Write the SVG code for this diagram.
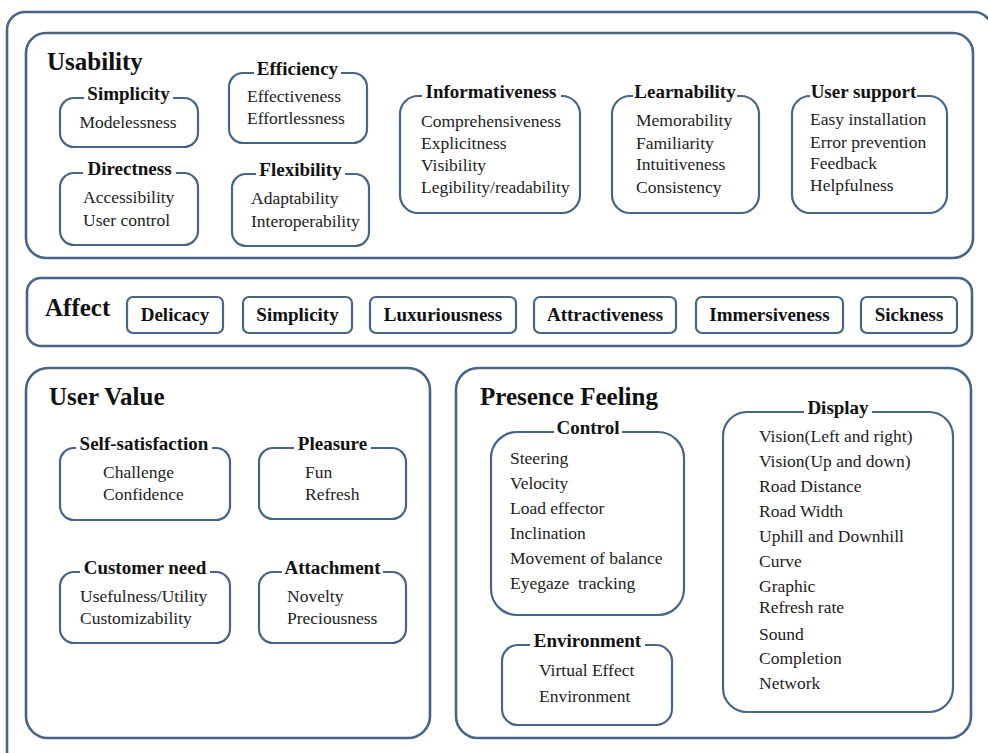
<svg xmlns="http://www.w3.org/2000/svg" width="988" height="753" viewBox="0 0 988 753" font-family="'Liberation Serif', 'Times New Roman', Tinos, 'DejaVu Serif', serif">
<style>
.box{fill:none;stroke:#486487;stroke-width:2.2}
.big{fill:none;stroke:#486487;stroke-width:2.6}
.gap{fill:#ffffff}
text{font-family:'Liberation Serif','Times New Roman',Tinos,'DejaVu Serif',serif}
.t{font-weight:bold;font-size:19px;fill:#111;text-anchor:middle}
.h{font-weight:bold;font-size:25px;fill:#111}
.i{font-size:17.5px;fill:#222}
.a{font-weight:bold;font-size:19px;fill:#111;text-anchor:middle}
</style>
<rect width="988" height="753" fill="#ffffff"/>
<rect class="big" x="7" y="12" width="985" height="760" rx="18"/>

<g id="usability">
<rect class="big" x="26" y="33" width="947" height="225" rx="20"/>
<text class="h" x="47" y="70">Usability</text>
</g>
<g id="simplicity">
<rect class="box" x="60" y="98" width="138" height="49" rx="14"/>
<rect class="gap" x="84" y="84" width="89" height="17"/>
<text class="t" x="128.5" y="100">Simplicity</text>
<text class="i" x="128" y="128" text-anchor="middle">Modelessness</text>
</g>
<g id="efficiency">
<rect class="box" x="229" y="73" width="138" height="70" rx="14"/>
<rect class="gap" x="254" y="59" width="87" height="17"/>
<text class="t" x="297.5" y="75">Efficiency</text>
<text class="i" x="247" y="102">Effectiveness</text>
<text class="i" x="247" y="124">Effortlessness</text>
</g>
<g id="directness">
<rect class="box" x="60" y="173" width="138" height="72" rx="14"/>
<rect class="gap" x="83" y="159" width="93" height="17"/>
<text class="t" x="129.5" y="175">Directness</text>
<text class="i" x="83" y="203">Accessibility</text>
<text class="i" x="83" y="226">User control</text>
</g>
<g id="flexibility">
<rect class="box" x="232" y="174" width="137" height="72" rx="14"/>
<rect class="gap" x="256" y="160" width="89" height="17"/>
<text class="t" x="300.5" y="176">Flexibility</text>
<text class="i" x="251" y="204">Adaptability</text>
<text class="i" x="251" y="227">Interoperability</text>
</g>
<g id="informativeness">
<rect class="box" x="400" y="96" width="180" height="117" rx="18"/>
<rect class="gap" x="422" y="82" width="139" height="17"/>
<text class="t" x="491" y="98">Informativeness</text>
<text class="i" x="421" y="127">Comprehensiveness</text>
<text class="i" x="421" y="149">Explicitness</text>
<text class="i" x="421" y="171">Visibility</text>
<text class="i" x="421" y="193">Legibility/readability</text>
</g>
<g id="learnability">
<rect class="box" x="612" y="96" width="147" height="117" rx="18"/>
<rect class="gap" x="633" y="82" width="104" height="17"/>
<text class="t" x="685" y="98">Learnability</text>
<text class="i" x="636" y="126">Memorability</text>
<text class="i" x="636" y="149">Familiarity</text>
<text class="i" x="636" y="170">Intuitiveness</text>
<text class="i" x="636" y="193">Consistency</text>
</g>
<g id="user-support">
<rect class="box" x="792" y="96" width="155" height="117" rx="18"/>
<rect class="gap" x="810" y="82" width="107" height="17"/>
<text class="t" x="863.5" y="98">User support</text>
<text class="i" x="810" y="125">Easy installation</text>
<text class="i" x="810" y="148">Error prevention</text>
<text class="i" x="810" y="169">Feedback</text>
<text class="i" x="810" y="191">Helpfulness</text>
</g>

<g id="affect">
<rect class="big" x="27" y="278" width="945" height="68" rx="14"/>
<text class="h" x="45" y="316" font-size="24">Affect</text>
</g>
<g id="affect-delicacy"><rect class="box" x="127" y="297" width="96" height="36" rx="6"/><text class="a" x="175" y="321">Delicacy</text></g>
<g id="affect-simplicity"><rect class="box" x="243" y="297" width="109" height="36" rx="6"/><text class="a" x="297.5" y="321">Simplicity</text></g>
<g id="affect-luxuriousness"><rect class="box" x="370" y="297" width="146" height="36" rx="6"/><text class="a" x="443" y="321">Luxuriousness</text></g>
<g id="affect-attractiveness"><rect class="box" x="534" y="297" width="142" height="36" rx="6"/><text class="a" x="605" y="321">Attractiveness</text></g>
<g id="affect-immersiveness"><rect class="box" x="696" y="297" width="147" height="36" rx="6"/><text class="a" x="769.5" y="321">Immersiveness</text></g>
<g id="affect-sickness"><rect class="box" x="861" y="297" width="96" height="36" rx="6"/><text class="a" x="909" y="321">Sickness</text></g>

<g id="user-value">
<rect class="big" x="26" y="368" width="404" height="370" rx="22"/>
<text class="h" x="49" y="405">User Value</text>
</g>
<g id="self-satisfaction">
<rect class="box" x="60" y="448" width="170" height="72" rx="14"/>
<rect class="gap" x="76" y="434" width="136" height="17"/>
<text class="t" x="144" y="450">Self-satisfaction</text>
<text class="i" x="103" y="478">Challenge</text>
<text class="i" x="103" y="500">Confidence</text>
</g>
<g id="pleasure">
<rect class="box" x="259" y="448" width="147" height="71" rx="14"/>
<rect class="gap" x="294" y="434" width="77" height="17"/>
<text class="t" x="332.5" y="450">Pleasure</text>
<text class="i" x="305" y="478">Fun</text>
<text class="i" x="305" y="500">Refresh</text>
</g>
<g id="customer-need">
<rect class="box" x="60" y="572" width="170" height="71" rx="14"/>
<rect class="gap" x="80" y="558" width="130" height="17"/>
<text class="t" x="145" y="574">Customer need</text>
<text class="i" x="80" y="602">Usefulness/Utility</text>
<text class="i" x="80" y="624">Customizability</text>
</g>
<g id="attachment">
<rect class="box" x="259" y="572" width="147" height="71" rx="14"/>
<rect class="gap" x="282" y="558" width="101" height="17"/>
<text class="t" x="332.5" y="574">Attachment</text>
<text class="i" x="287" y="602">Novelty</text>
<text class="i" x="287" y="624">Preciousness</text>
</g>

<g id="presence-feeling">
<rect class="big" x="456" y="368" width="515" height="370" rx="22"/>
<text class="h" x="480" y="405">Presence Feeling</text>
</g>
<g id="control">
<rect class="box" x="491" y="432" width="193" height="183" rx="26"/>
<rect class="gap" x="554" y="418" width="68" height="17"/>
<text class="t" x="588" y="434">Control</text>
<text class="i" x="510" y="464">Steering</text>
<text class="i" x="510" y="489">Velocity</text>
<text class="i" x="510" y="514">Load effector</text>
<text class="i" x="510" y="539">Inclination</text>
<text class="i" x="510" y="564">Movement of balance</text>
<text class="i" x="510" y="589" xml:space="preserve">Eyegaze  tracking</text>
</g>
<g id="environment">
<rect class="box" x="502" y="645" width="170" height="80" rx="16"/>
<rect class="gap" x="530" y="631" width="115" height="17"/>
<text class="t" x="587.5" y="647">Environment</text>
<text class="i" x="539" y="676">Virtual Effect</text>
<text class="i" x="539" y="702">Environment</text>
</g>
<g id="display">
<rect class="box" x="723" y="412" width="230" height="300" rx="24"/>
<rect class="gap" x="804" y="398" width="68" height="17"/>
<text class="t" x="838" y="414">Display</text>
<text class="i" x="759" y="442">Vision(Left and right)</text>
<text class="i" x="759" y="467">Vision(Up and down)</text>
<text class="i" x="759" y="492">Road Distance</text>
<text class="i" x="759" y="517">Road Width</text>
<text class="i" x="759" y="542">Uphill and Downhill</text>
<text class="i" x="759" y="567">Curve</text>
<text class="i" x="759" y="592">Graphic</text>
<text class="i" x="759" y="613">Refresh rate</text>
<text class="i" x="759" y="640">Sound</text>
<text class="i" x="759" y="664">Completion</text>
<text class="i" x="759" y="689">Network</text>
</g>
<g id="connectors"></g>
</svg>
